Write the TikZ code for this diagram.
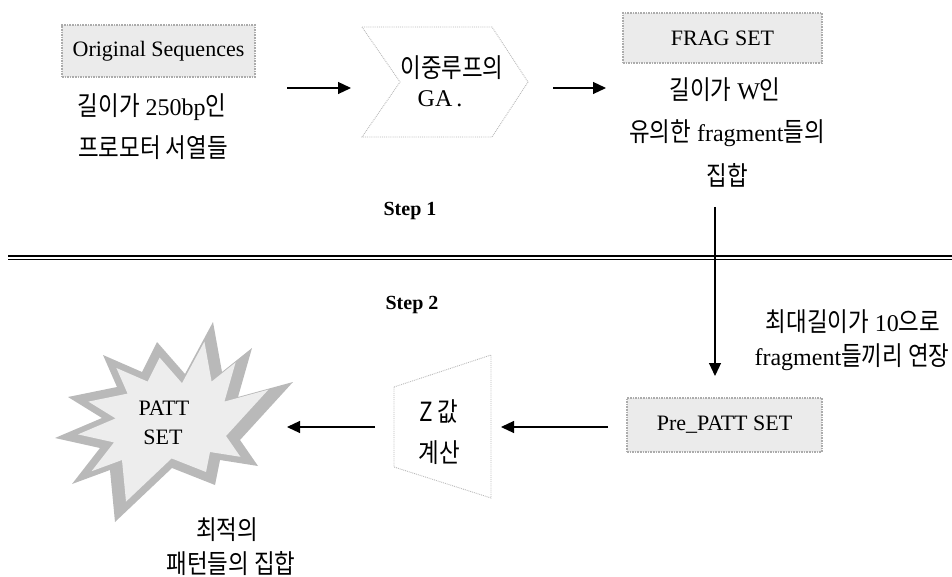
\documentclass[tikz,border=0pt]{standalone}
\usepackage{fontspec}
\setmainfont{Liberation Serif}
\newfontfamily\kr[FakeStretch=0.85, Scale=1.2]{Noto Sans CJK KR}
\newcommand\ko[1]{{\fontsize{22}{24}\selectfont\kr #1}}
\usetikzlibrary{arrows.meta}
\tikzset{
  setbox/.style={draw=gray!65, densely dotted, line width=1.6pt, fill=gray!16, inner sep=0pt},
  frame/.style={draw=gray!55, densely dotted, line width=0.9pt},
  arr/.style={line width=1.2pt, -{Triangle[length=13pt,width=12pt]}},
  lat/.style={font=\fontsize{22}{24}\selectfont, inner sep=0pt},
  lbl/.style={font=\fontsize{24}{26}\selectfont, inner sep=0pt},
  korl/.style={font=\fontsize{22}{24}\selectfont\kr, inner sep=0pt},
  stepl/.style={font=\fontsize{20}{22}\selectfont\bfseries, inner sep=0pt}
}
\def\starpath{(213,322) -- (222,372) -- (252,348) -- (238,397) -- (293,382) -- (240,440) -- (258,466) -- (220,460) -- (215,485) -- (172,468) -- (115,522) -- (110,470) -- (72,484) -- (100,448) -- (55,438) -- (102,418) -- (68,397) -- (117,387) -- (103,355) -- (142,372) -- (157,342) -- (185,374) -- cycle}
\begin{document}
\begin{tikzpicture}[x=1pt,y=-1pt]
\useasboundingbox (0,0) rectangle (952,577);

% Step 1 boxes
\node[setbox, minimum width=193pt, minimum height=52pt, lat] (orig) at (158.5,51) {Original Sequences};
\node[lbl] (t1) at (152,107) {\ko{길이가} 250bp\ko{인}};
\node[korl] (t2) at (153,148) {프로모터 서열들};

\draw[frame] (362,27) -- (492,27) -- (528,82) -- (492,137) -- (362,137) -- (400,82) -- cycle;
\coordinate (ga) at (445,82);
\node[korl] (ga1) at (452,68) {이중루프의};
\node[lbl] (ga2) at (440,99) {GA\,.};

\node[setbox, minimum width=199pt, minimum height=50pt, lat] (frag) at (722.5,38) {FRAG SET};
\node[lbl] (f1) at (725,90) {\ko{길이가} W\ko{인}};
\node[lbl] (f2) at (727,133) {\ko{유의한} fragment\ko{들의}};
\node[korl] (f3) at (727,175) {집합};

\coordinate (a1s) at (287,88);
\coordinate (a1e) at (351,88);
\coordinate (a2s) at (553,88);
\coordinate (a2e) at (606,88);
\draw[arr] (a1s) -- (a1e);
\draw[arr] (a2s) -- (a2e);

\node[stepl] (s1) at (410,211) {Step 1};

% separator
\coordinate (l1a) at (8,255.8);
\coordinate (l1b) at (952,255.8);
\coordinate (l2a) at (8,259.6);
\coordinate (l2b) at (952,259.6);
\draw[line width=1.6pt] (l1a) -- (l1b);
\draw[line width=1.3pt] (l2a) -- (l2b);

\node[stepl] (s2) at (412,305) {Step 2};

% vertical arrow
\coordinate (vs) at (715,207);
\coordinate (ve) at (715,376);
\draw[arr] (vs) -- (ve);
\node[lbl] (e1) at (853,322) {\ko{최대길이가} 10\ko{으로}};
\node[lbl] (e2) at (852,357) {fragment\ko{들끼리 연장}};

\node[setbox, minimum width=195pt, minimum height=54pt, lat] (pre) at (724.5,425) {Pre\_PATT SET};

% trapezoid
\draw[frame] (394,387) -- (491,355) -- (491,498) -- (394,467) -- cycle;
\node[korl] (z1) at (439,412) {Z 값};
\node[korl] (z2) at (439,453) {계산};

\coordinate (a4s) at (608,427);
\coordinate (a4e) at (501,427);
\coordinate (a5s) at (375,427);
\coordinate (a5e) at (287,427);
\draw[arr] (a4s) -- (a4e);
\draw[arr] (a5s) -- (a5e);

% star
\fill[gray!55] \starpath;
\begin{scope}[shift={(170,420)}, scale=0.8, shift={(-170,-420)}]
\fill[gray!14] \starpath;
\end{scope}
\node[lat] (p1) at (164,408) {PATT};
\node[lat] (p2) at (163,437) {SET};
\node[korl] (r1) at (227,530) {최적의};
\node[korl] (r2) at (231,564) {패턴들의 집합};
\end{tikzpicture}
\end{document}
